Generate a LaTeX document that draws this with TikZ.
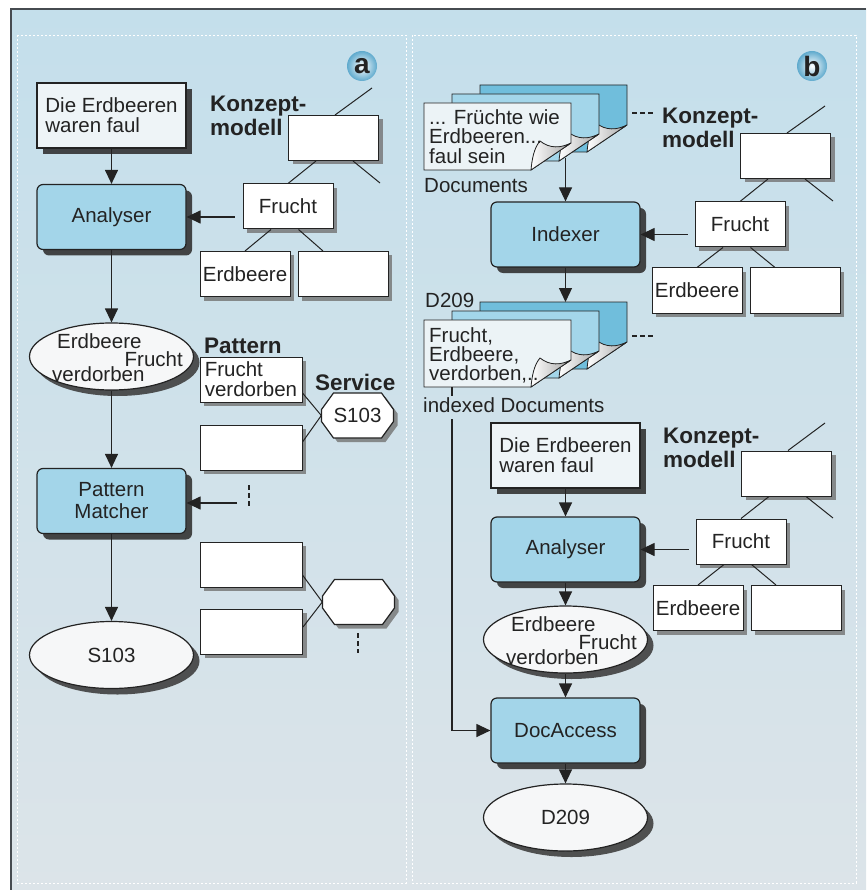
\documentclass[tikz,border=0pt]{standalone}
\usepackage{fontspec}
\setmainfont{Liberation Sans}
\usepackage{tikz}
\usetikzlibrary{shapes.geometric, arrows.meta, calc, shadows}
\definecolor{bgtop}{RGB}{196, 223, 235}
\definecolor{bgbot}{RGB}{220, 228, 233}
\definecolor{framegray}{RGB}{70, 75, 80}
\definecolor{linec}{RGB}{35, 35, 35}
\definecolor{procblue}{RGB}{163, 213, 233}
\definecolor{inwhite}{RGB}{238, 244, 247}
\definecolor{ovalwhite}{RGB}{246, 247, 248}
\definecolor{sheetdark}{RGB}{112, 190, 220}
\definecolor{sheetmid}{RGB}{163, 214, 234}
\definecolor{sheetlight}{RGB}{236, 243, 246}
\definecolor{badgeblue}{RGB}{95, 170, 205}
% Achteck um einen Mittelpunkt
\newcommand{\achteck}[1]{%
  \filldraw[eckig] ($(#1)+(-24,-22.5)$) -- ($(#1)+(24,-22.5)$) -- ($(#1)+(36,-6)$) -- ($(#1)+(36,6)$)
    -- ($(#1)+(24,22.5)$) -- ($(#1)+(-24,22.5)$) -- ($(#1)+(-36,6)$) -- ($(#1)+(-36,-6)$) -- cycle;}
% Blatt mit umgeknickter Ecke: x, y (oben links), Farbe
\newcommand{\blatt}[3]{%
  \filldraw[blattrand, fill=#3] (#1,#2) -- ++(147,0) -- ++(0,40) -- ++(-40,27) -- ++(-107,0) -- cycle;
  \filldraw[blattrand, left color=white, right color=black!35]
    ($(#1,#2)+(107,67)$) .. controls ($(#1,#2)+(108,56)$) and ($(#1,#2)+(110,45)$) .. ($(#1,#2)+(116,38)$)
    .. controls ($(#1,#2)+(126,46)$) and ($(#1,#2)+(137,45)$) .. ($(#1,#2)+(147,40)$) -- cycle;}

\begin{document}
\begin{tikzpicture}[
  x=1pt, y=-1pt,
  txt/.style={font=\fontsize{20.5}{20}\selectfont, text=linec},
  proc/.style={txt, draw=linec, line width=1.2pt, rounded corners=6pt, fill=procblue, minimum width=149pt, minimum height=65pt, align=center, inner sep=0pt, drop shadow={shadow xshift=6pt, shadow yshift=-6pt, fill=black!80, opacity=0.9}},
  inbox/.style={txt, draw=linec, line width=1.2pt, fill=inwhite, minimum width=149pt, minimum height=65pt, align=left, inner sep=0pt, drop shadow={shadow xshift=6pt, shadow yshift=-6pt, fill=black!80, opacity=0.9}},
  kbox/.style={txt, draw=linec, line width=1pt, fill=white, minimum width=#1, minimum height=45pt, inner sep=0pt, drop shadow={shadow xshift=4pt, shadow yshift=-4pt, fill=black!55, opacity=0.8}},
  kbox/.default=90pt,
  pbox/.style={kbox=102pt, align=left},
  oval/.style={txt, ellipse, draw=linec, line width=1.2pt, fill=ovalwhite, minimum width=164pt, minimum height=67pt, inner sep=0pt, drop shadow={shadow xshift=6pt, shadow yshift=-6pt, fill=black!75, opacity=0.9}},
  oktext/.style={txt, minimum width=72pt, minimum height=45pt, inner sep=0pt},
  wort/.style={txt, inner sep=0pt},
  titel/.style={font=\fontsize{22.5}{24}\selectfont\bfseries, text=linec, inner sep=0pt, align=left, anchor=north west},
  badge/.style={circle, minimum size=30pt, inner sep=0pt, shading=radial, inner color=white, outer color=badgeblue, font=\fontsize{28}{28}\selectfont\bfseries, text=linec},
  pfeil/.style={-{Triangle[length=14pt, width=13pt]}, line width=1.2pt, draw=linec},
  ast/.style={line width=1pt, draw=linec},
  striche/.style={line width=2pt, draw=linec, dash pattern=on 5pt off 3pt},
  eckig/.style={draw=linec, line width=1.2pt, fill=white, drop shadow={shadow xshift=4pt, shadow yshift=-4pt, fill=black!55, opacity=0.8}},
  blattrand/.style={draw=linec, line width=0.8pt}
]
% Hintergrund und Rahmen
\useasboundingbox (0,0) rectangle (866,890);
\shade[top color=bgtop, bottom color=bgbot] (11,9) rectangle (866,890);
\draw[framegray, line width=1.5pt] (866,9) -- (11,9) -- (11,890);
\draw[white, line width=0.8pt, dash pattern=on 2pt off 2pt] (17,35) rectangle (406,883);
\draw[white, line width=0.8pt, dash pattern=on 2pt off 2pt] (412,35) rectangle (856,883);

% Teil a: Analyse und Pattern Matching
\node[badge] (tagA) at (362,66) {a};
\node[inbox] (satzA) at (111.5,115.5) {Die Erdbeeren\\waren faul};
\node[proc] (anaA) at (111.5,217) {Analyser};
\node[titel] (konA) at (210,96) {Konzept-\\modell};
\node[kbox] (oberA) at (333.5,138) {};
\node[kbox] (fruA) at (288,206.5) {Frucht};
\node[kbox] (erdA) at (245,274) {Erdbeere};
\node[kbox] (leerA) at (343,274) {};
\coordinate (aufA) at (372,88);
\coordinate (offA) at (380,183);
\draw[ast] ([xshift=1.5pt]oberA.north) -- (aufA);
\draw[ast] ([xshift=-17.5pt]oberA.south) -- (fruA.north);
\draw[ast] ([xshift=19.5pt]oberA.south) -- (offA);
\draw[ast] ([xshift=-17pt]fruA.south) -- (erdA.north);
\draw[ast] ([xshift=10.5pt]fruA.south) -- ([xshift=-20pt]leerA.north);
\draw[pfeil] (satzA) -- (anaA);
\draw[pfeil] ($(fruA.west |- anaA.east)+(-8,0)$) -- (anaA.east);

\node[oval] (ellA) at (111.5,356.5) {};
\node[wort, anchor=base west] (ellA1) at ($(ellA)+(-54.5,-8.5)$) {Erdbeere};
\node[wort, anchor=base east] (ellA2) at ($(ellA)+(71.5,10)$) {Frucht};
\node[wort, anchor=base west] (ellA3) at ($(ellA)+(-59.5,25)$) {verdorben};
\draw[pfeil] (anaA) -- (ellA);

\node[titel] (patTitel) at (204,338) {Pattern};
\node[pbox] (patA1) at (251,379.5) {Frucht\\verdorben};
\node[titel] (servTitel) at (315,374) {Service};
\coordinate (okt1) at (357.5,415.5);
\achteck{okt1}
\node[oktext] (s103) at (okt1) {S103};
\node[pbox] (patA2) at (251,447.5) {};
\draw[ast] ([yshift=-13.5pt]patA1.east) -- (s103.west);
\draw[ast] ([yshift=5.5pt]patA2.east) -- (s103.west);

\node[proc] (pmA) at (111.5,501) {Pattern\\[2pt]Matcher};
\draw[pfeil] (ellA) -- (pmA);
\coordinate (mehrA) at (237,503);
\draw[pfeil] (mehrA) -- (pmA.east |- mehrA);
\draw[striche] (249,485) -- (249,507);

\node[pbox] (patA3) at (251,564.5) {};
\coordinate (okt2) at (358.5,602);
\achteck{okt2}
\node[oktext] (oktA2) at (okt2) {};
\node[pbox] (patA4) at (251.5,631.5) {};
\draw[ast] ([yshift=-10.5pt]patA3.east) -- (oktA2.west);
\draw[ast] ([yshift=4.5pt]patA4.east) -- (oktA2.west);
\draw[striche] (358,633) -- (358,653);

\node[oval] (ergA) at (111.5,655) {S103};
\draw[pfeil] (pmA) -- (ergA);

% Teil b: Indexierung und Dokumentzugriff
\node[badge] (tagB) at (812,66) {b};
\blatt{480}{85}{sheetdark}
\blatt{452}{94}{sheetmid}
\blatt{424}{103}{sheetlight}
\node[wort, align=left, anchor=north west, font=\fontsize{20.5}{19.5}\selectfont] (docs) at (429,109) {... Früchte wie\\Erdbeeren...\\faul sein};
\draw[striche] (632,113) -- (653,113);
\node[wort, anchor=base west] (docsLbl) at (424,193) {Documents};
\node[proc] (indexer) at (565.5,234.5) {Indexer};
\coordinate (docsAus) at (565.5,158);
\draw[pfeil] (docsAus) -- (indexer);

\node[titel] (konB) at (662,108) {Konzept-\\modell};
\node[kbox] (oberB) at (785.5,156) {};
\node[kbox] (fruB) at (740,224.5) {Frucht};
\node[kbox] (erdB) at (697,290.5) {Erdbeere};
\node[kbox] (leerB) at (795,290.5) {};
\coordinate (aufB) at (825,106);
\coordinate (offB) at (833,201);
\draw[ast] ([xshift=1.5pt]oberB.north) -- (aufB);
\draw[ast] ([xshift=-17.5pt]oberB.south) -- (fruB.north);
\draw[ast] ([xshift=19.5pt]oberB.south) -- (offB);
\draw[ast] ([xshift=-17pt]fruB.south) -- (erdB.north);
\draw[ast] ([xshift=10.5pt]fruB.south) -- ([xshift=-20pt]leerB.north);
\draw[pfeil] ($(fruB.west |- indexer.east)+(-7,0)$) -- (indexer.east);

\blatt{480}{302}{sheetdark}
\blatt{452}{311}{sheetmid}
\blatt{424}{320}{sheetlight}
\node[wort, align=left, anchor=north west, font=\fontsize{20.5}{19}\selectfont] (idx) at (429,327) {Frucht,\\Erdbeere,\\verdorben,..};
\coordinate (idxEin) at (565.5,302);
\draw[pfeil] (indexer) -- (idxEin);
\node[wort, anchor=base west] (d209Lbl) at (425,307) {D209};
\draw[striche] (632,336) -- (653,336);
\node[wort, anchor=base west, inner sep=1pt] (idxLbl) at (422,412) {indexed Documents};
\coordinate (idxAus) at (452,387);

\node[inbox] (satzB) at (565.5,455.5) {Die Erdbeeren\\waren faul};
\node[proc] (anaB) at (565.5,549.5) {Analyser};
\draw[pfeil] (satzB) -- (anaB);

\node[titel] (konC) at (663,428) {Konzept-\\modell};
\node[kbox] (oberC) at (786.5,473.5) {};
\node[kbox] (fruC) at (741,541.5) {Frucht};
\node[kbox] (erdC) at (698,608) {Erdbeere};
\node[kbox] (leerC) at (796,608) {};
\coordinate (aufC) at (825,423);
\coordinate (offC) at (833,518);
\draw[ast] ([xshift=1.5pt]oberC.north) -- (aufC);
\draw[ast] ([xshift=-17.5pt]oberC.south) -- (fruC.north);
\draw[ast] ([xshift=19.5pt]oberC.south) -- (offC);
\draw[ast] ([xshift=-17pt]fruC.south) -- (erdC.north);
\draw[ast] ([xshift=10.5pt]fruC.south) -- ([xshift=-20pt]leerC.north);
\draw[pfeil] ($(fruC.west |- anaB.east)+(-7,0)$) -- (anaB.east);

\node[oval] (ellB) at (565.5,639.5) {};
\node[wort, anchor=base west] (ellB1) at ($(ellB)+(-54.5,-8.5)$) {Erdbeere};
\node[wort, anchor=base east] (ellB2) at ($(ellB)+(71.5,10)$) {Frucht};
\node[wort, anchor=base west] (ellB3) at ($(ellB)+(-59.5,25)$) {verdorben};
\draw[pfeil] (anaB) -- (ellB);

\node[proc] (docacc) at (565.5,730.5) {DocAccess};
\draw[pfeil] (ellB) -- (docacc);
\node[oval] (ergB) at (565.5,817.5) {D209};
\draw[pfeil] (docacc) -- (ergB);
\draw[ast, line width=1.2pt] (idxAus) -- (idxAus |- idxLbl.north);
\draw[pfeil] ($(idxAus |- idxLbl.south)+(0,6)$) |- (docacc.west);
\end{tikzpicture}
\end{document}
